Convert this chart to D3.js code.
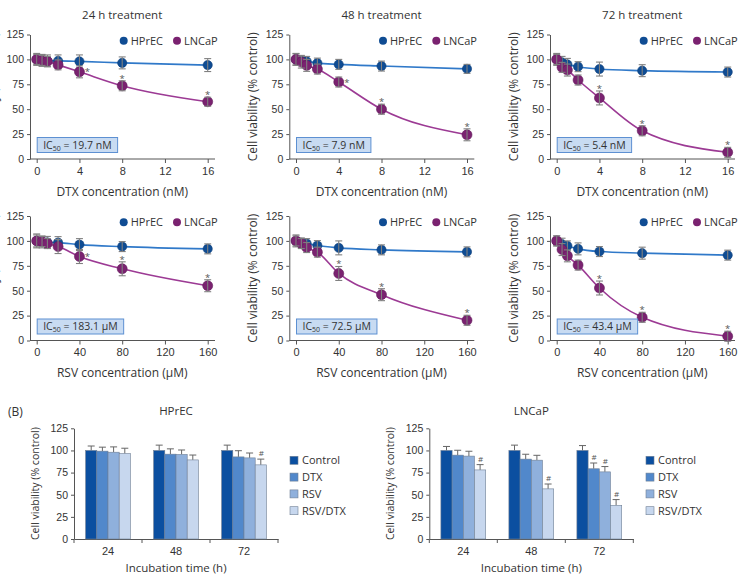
<!DOCTYPE html>
<html>
<head>
<meta charset="utf-8">
<script src="https://cdn.jsdelivr.net/npm/d3@7"></script>
<style>
  body { margin: 0; background: #fff; }
  svg { font-family: "Open Sans", "Noto Sans", sans-serif; }
</style>
</head>
<body>
<svg id="fig" width="740" height="575"></svg>
<script>
// ---- data ----
const dtxDoses = [0, 0.5, 1, 2, 4, 8, 16];
const rsvDoses = [0, 5, 10, 20, 40, 80, 160];
const dtxTicks = [0, 4, 8, 12, 16];
const rsvTicks = [0, 40, 80, 120, 160];
const viabTicks = [0, 25, 50, 75, 100, 125];

const dtxHprec24 = [100, 99, 98.5, 98.5, 98, 96.5, 94.3];
const dtxHprec24Err = [6, 6, 6, 6, 6.5, 6, 6.5];
const dtxLncap24 = [100, 99, 98, 94.5, 87.5, 73.5, 57.5];
const dtxLncap24Err = [5, 5, 5, 5, 6, 5, 4.5];

const dtxHprec48 = [100, 99, 98, 96.3, 95, 93.3, 90.5];
const dtxHprec48Err = [5.5, 5, 5, 5, 5, 5, 4.5];
const dtxLncap48 = [100, 97.3, 94, 90.3, 77.3, 50, 24.3];
const dtxLncap48Err = [6, 6, 6, 5, 5, 5, 6];

const dtxHprec72 = [100, 97, 95, 92.7, 90.3, 88.7, 87.3];
const dtxHprec72Err = [6, 6, 6, 5, 7, 6, 5];
const dtxLncap72 = [100, 92, 89.3, 79.3, 61.3, 28.3, 6.7];
const dtxLncap72Err = [5, 5, 6, 5, 7, 5, 5];

const rsvHprec24 = [100, 99, 98.5, 98.3, 96.3, 94.3, 92];
const rsvHprec24Err = [7, 6, 6, 6, 6, 5, 5];
const rsvLncap24 = [100, 99.3, 97.3, 94.3, 84.3, 72, 55];
const rsvLncap24Err = [6, 5, 5, 7, 7, 7, 6];

const rsvHprec48 = [100, 98, 97.3, 95.3, 93, 91, 89];
const rsvHprec48Err = [6, 5, 5, 5, 7, 5, 5];
const rsvLncap48 = [100, 97.3, 93.3, 88.7, 67.3, 46, 20.3];
const rsvLncap48Err = [5, 5, 5, 5, 7, 6, 5];

const rsvHprec72 = [100, 96.7, 95, 92, 89.3, 87.7, 85.7];
const rsvHprec72Err = [5, 6, 5, 6, 5, 6, 5];
const rsvLncap72 = [100, 91.3, 85, 75.7, 52.7, 23.3, 4.3];
const rsvLncap72Err = [5, 6, 6, 5, 7, 5, 5];

const ic50Labels = ["19.7 nM", "7.9 nM", "5.4 nM", "183.1 μM", "72.5 μM", "43.4 μM"];

const incubTimes = ["24", "48", "72"];
const treatments = ["Control", "DTX", "RSV", "RSV/DTX"];
const barHprec = [[100, 99.2, 98, 96.5], [100, 95.8, 95.5, 89.3], [100, 92.7, 91.6, 83.7]];
const barHprecErr = [[5, 4.5, 6, 6], [6, 6, 5, 5.5], [6, 7, 5.5, 6.5]];
const barHprecHash = [[0, 0, 0, 0], [0, 0, 0, 0], [0, 0, 0, 1]];
const barLncap = [[100, 94.7, 93.6, 78], [100, 90.2, 89, 56.6], [100, 79.3, 75.8, 38]];
const barLncapErr = [[4.5, 5.5, 5.5, 6], [6, 5.5, 5.5, 5.5], [5.5, 6.5, 6, 6.5]];
const barLncapHash = [[0, 0, 0, 1], [0, 0, 0, 1], [0, 1, 1, 1]];

// ---- styling ----
const hprecLine = "#3079c9", hprecDot = "#0f4c93";
const lncapLine = "#9c3a94", lncapDot = "#7a2270";
const errColor = "#808080";
const textColor = "#333";
const axisColor = "#555";
const barColors = ["#0b4fa0", "#5188cb", "#8fb0dc", "#c7d7ee"];

const svg = d3.select("#fig");

function styleAxis(sel) {
  sel.selectAll(".domain").attr("stroke", axisColor);
  sel.selectAll(".tick line").attr("stroke", axisColor);
  sel.selectAll(".tick text").attr("fill", textColor).style("font-size", "10.5px");
}

function drawCurvePanel(p) {
  const g = svg.append("g");
  const x = d3.scaleLinear().domain([0, p.doses[p.doses.length - 1]]).range([p.x0, p.x0 + 171]);
  const y = d3.scaleLinear().domain([0, 125]).range([p.y0, p.y0 - 124.5]);
  const axX = p.x0 - 6.7;

  const ya = g.append("g").attr("transform", `translate(${axX},0)`)
    .call(d3.axisLeft(y).tickValues(viabTicks).tickSize(3).tickPadding(3).tickSizeOuter(0));
  styleAxis(ya);

  const xa = g.append("g").attr("transform", `translate(0,${p.y0})`)
    .call(d3.axisBottom(x).tickValues(p.ticks).tickSize(4).tickPadding(4));
  xa.select(".domain").remove();
  xa.append("line").attr("x1", axX).attr("x2", p.x0 + 178.3).attr("stroke", axisColor);
  styleAxis(xa);
  xa.selectAll(".tick text").style("font-size", "11px");

  g.append("text").attr("x", p.x0 + 85.5).attr("y", p.y0 + 36.5)
    .attr("text-anchor", "middle").attr("fill", textColor).style("font-size", "12px")
    .text(p.xTitle);

  if (p.yTitle) {
    g.append("text")
      .attr("transform", `translate(${axX - 32},${y(62.5)}) rotate(-90)`)
      .attr("text-anchor", "middle").attr("fill", textColor).style("font-size", "12px")
      .text("Cell viability (% control)");
  }
  if (p.title) {
    g.append("text").attr("x", p.x0 + 85.5).attr("y", 19)
      .attr("text-anchor", "middle").attr("fill", textColor).style("font-size", "11.5px")
      .text(p.title);
  }

  const series = [
    { vals: p.hprec, err: p.hprecErr, line: hprecLine, dot: hprecDot, r: 4.6 },
    { vals: p.lncap, err: p.lncapErr, line: lncapLine, dot: lncapDot, r: 5 }
  ];
  const lineGen = d3.line().x(d => x(d[0])).y(d => y(d[1])).curve(d3.curveMonotoneX);

  series.forEach(s => {
    const pts = p.doses.map((d, i) => [d, s.vals[i], s.err[i]]);
    g.append("path").datum(pts).attr("d", lineGen)
      .attr("fill", "none").attr("stroke", s.line).attr("stroke-width", 1.6);
  });
  series.forEach(s => {
    const pts = p.doses.map((d, i) => [d, s.vals[i], s.err[i]]);
    g.selectAll(null).data(pts).enter().append("circle")
      .attr("cx", d => x(d[0])).attr("cy", d => y(d[1])).attr("r", s.r)
      .attr("fill", s.dot).attr("stroke", d3.color(s.dot).darker(0.6)).attr("stroke-width", 0.6);
    const eb = g.selectAll(null).data(pts).enter().append("g")
      .attr("stroke", errColor).attr("stroke-width", 1.1).attr("fill", "none");
    eb.append("line").attr("x1", d => x(d[0])).attr("x2", d => x(d[0]))
      .attr("y1", d => y(d[1] - d[2])).attr("y2", d => y(d[1] + d[2]));
    eb.append("line").attr("x1", d => x(d[0]) - 3.5).attr("x2", d => x(d[0]) + 3.5)
      .attr("y1", d => y(d[1] - d[2])).attr("y2", d => y(d[1] - d[2]));
    eb.append("line").attr("x1", d => x(d[0]) - 3.5).attr("x2", d => x(d[0]) + 3.5)
      .attr("y1", d => y(d[1] + d[2])).attr("y2", d => y(d[1] + d[2]));
  });

  // significance stars on LNCaP at the three highest doses
  [4, 5, 6].forEach(i => {
    const side = (i === 4 && p.starRight);
    const d = p.doses[i], v = p.lncap[i], e = p.lncapErr[i];
    g.append("text")
      .attr("x", side ? x(d) + 8 : x(d))
      .attr("y", side ? y(v) + 3.5 : y(v + e) + 1)
      .attr("text-anchor", "middle").attr("fill", "#555").style("font-size", "9.5px")
      .text("*");
  });

  // legend
  const ly = y(125) + 6.2;
  [["HPrEC", hprecDot, 87], ["LNCaP", lncapDot, 140.3]].forEach(([name, c, dx]) => {
    g.append("circle").attr("cx", p.x0 + dx).attr("cy", ly).attr("r", 4).attr("fill", c);
    g.append("text").attr("x", p.x0 + dx + 7).attr("y", ly + 3.8)
      .attr("fill", textColor).style("font-size", "11px").text(name);
  });

  // IC50 box
  const bx = p.x0 + 0.5, by = p.y0 - 21.5;
  const rect = g.append("rect").attr("x", bx).attr("y", by).attr("height", 15)
    .attr("fill", "#c8dbf2").attr("stroke", "#5d90d2").attr("stroke-width", 1);
  const t = g.append("text").attr("x", bx + 6).attr("y", by + 11)
    .attr("fill", textColor).style("font-size", "10.5px");
  t.append("tspan").text("IC");
  t.append("tspan").attr("dy", 2).style("font-size", "7px").text("50");
  t.append("tspan").attr("dy", -2).text(" = " + p.ic50);
  rect.attr("width", t.node().getComputedTextLength() + 12);
}

const colX = [36.7, 296, 556.7];
const rowY = [159, 340.5];
const panels = [
  { doses: dtxDoses, ticks: dtxTicks, hprec: dtxHprec24, hprecErr: dtxHprec24Err, lncap: dtxLncap24, lncapErr: dtxLncap24Err, title: "24 h treatment", starRight: true },
  { doses: dtxDoses, ticks: dtxTicks, hprec: dtxHprec48, hprecErr: dtxHprec48Err, lncap: dtxLncap48, lncapErr: dtxLncap48Err, title: "48 h treatment", starRight: true },
  { doses: dtxDoses, ticks: dtxTicks, hprec: dtxHprec72, hprecErr: dtxHprec72Err, lncap: dtxLncap72, lncapErr: dtxLncap72Err, title: "72 h treatment", starRight: false },
  { doses: rsvDoses, ticks: rsvTicks, hprec: rsvHprec24, hprecErr: rsvHprec24Err, lncap: rsvLncap24, lncapErr: rsvLncap24Err, starRight: true },
  { doses: rsvDoses, ticks: rsvTicks, hprec: rsvHprec48, hprecErr: rsvHprec48Err, lncap: rsvLncap48, lncapErr: rsvLncap48Err, starRight: false },
  { doses: rsvDoses, ticks: rsvTicks, hprec: rsvHprec72, hprecErr: rsvHprec72Err, lncap: rsvLncap72, lncapErr: rsvLncap72Err, starRight: false }
];
panels.forEach((p, i) => {
  p.x0 = colX[i % 3];
  p.y0 = rowY[Math.floor(i / 3)];
  p.xTitle = i < 3 ? "DTX concentration (nM)" : "RSV concentration (μM)";
  p.yTitle = true;
  p.ic50 = ic50Labels[i];
  drawCurvePanel(p);
});

// ---- (B) bar charts ----
function drawBars(b) {
  const g = svg.append("g");
  const x = d3.scaleBand().domain(incubTimes).range([b.axX, b.axX + 204]);
  const bw = x.bandwidth();
  const pad = (bw - 4 * 11.2) / 2;
  const xi = d3.scaleBand().domain(treatments).range([pad, bw - pad]);
  const y = d3.scaleLinear().domain([0, 125]).range([539, 428.3]);

  const ya = g.append("g").attr("transform", `translate(${b.axX},0)`)
    .call(d3.axisLeft(y).tickValues(viabTicks).tickSize(3).tickPadding(3).tickSizeOuter(0));
  styleAxis(ya);

  const xa = g.append("g").attr("transform", "translate(0,539)")
    .call(d3.axisBottom(x).tickSize(0).tickPadding(8).tickSizeOuter(0));
  styleAxis(xa);
  xa.selectAll(".tick text").style("font-size", "11px");
  const bounds = incubTimes.map(t => x(t)).concat([b.axX + 204]);
  xa.selectAll(null).data(bounds).enter().append("line")
    .attr("x1", d => d).attr("x2", d => d).attr("y1", 0).attr("y2", 4).attr("stroke", axisColor);

  incubTimes.forEach((t, gi) => {
    treatments.forEach((tr, ti) => {
      const v = b.vals[gi][ti], e = b.err[gi][ti];
      const bx = x(t) + xi(tr), cx = bx + xi.bandwidth() / 2;
      g.append("line").attr("x1", cx).attr("x2", cx).attr("y1", y(v)).attr("y2", y(v + e))
        .attr("stroke", "#666").attr("stroke-width", 1);
      g.append("line").attr("x1", cx - 3.5).attr("x2", cx + 3.5).attr("y1", y(v + e)).attr("y2", y(v + e))
        .attr("stroke", "#666").attr("stroke-width", 1);
      g.append("rect").attr("x", bx).attr("y", y(v)).attr("width", xi.bandwidth()).attr("height", y(0) - y(v))
        .attr("fill", barColors[ti]).attr("stroke", "#6f7f94").attr("stroke-width", 0.6);
      if (b.hash[gi][ti]) {
        g.append("text").attr("x", cx + 0.5).attr("y", y(v + e) - 3)
          .attr("text-anchor", "middle").attr("fill", "#555").style("font-size", "8px").text("#");
      }
    });
  });

  g.append("text").attr("x", b.axX + 102).attr("y", 414.5).attr("text-anchor", "middle")
    .attr("fill", textColor).style("font-size", "11.5px").text(b.title);
  g.append("text").attr("x", b.axX + 102).attr("y", 572).attr("text-anchor", "middle")
    .attr("fill", textColor).style("font-size", "11.5px").text("Incubation time (h)");
  g.append("text").attr("transform", `translate(${b.axX - 35},${y(62.5)}) rotate(-90)`)
    .attr("text-anchor", "middle").attr("fill", textColor).style("font-size", "10.5px")
    .text("Cell viability (% control)");

  treatments.forEach((tr, ti) => {
    const ly = 460.3 + ti * 16.8;
    g.append("rect").attr("x", b.legX).attr("y", ly - 4).attr("width", 8).attr("height", 8)
      .attr("fill", barColors[ti]).attr("stroke", "#6f7f94").attr("stroke-width", 0.6);
    g.append("text").attr("x", b.legX + 12).attr("y", ly + 4)
      .attr("fill", textColor).style("font-size", "11px").text(tr);
  });
}

drawBars({ axX: 74, title: "HPrEC", vals: barHprec, err: barHprecErr, hash: barHprecHash, legX: 290 });
drawBars({ axX: 429.3, title: "LNCaP", vals: barLncap, err: barLncapErr, hash: barLncapHash, legX: 646 });

svg.append("text").attr("x", 8).attr("y", 416).attr("fill", textColor)
  .style("font-size", "12px").text("(B)");
</script>
</body>
</html>
